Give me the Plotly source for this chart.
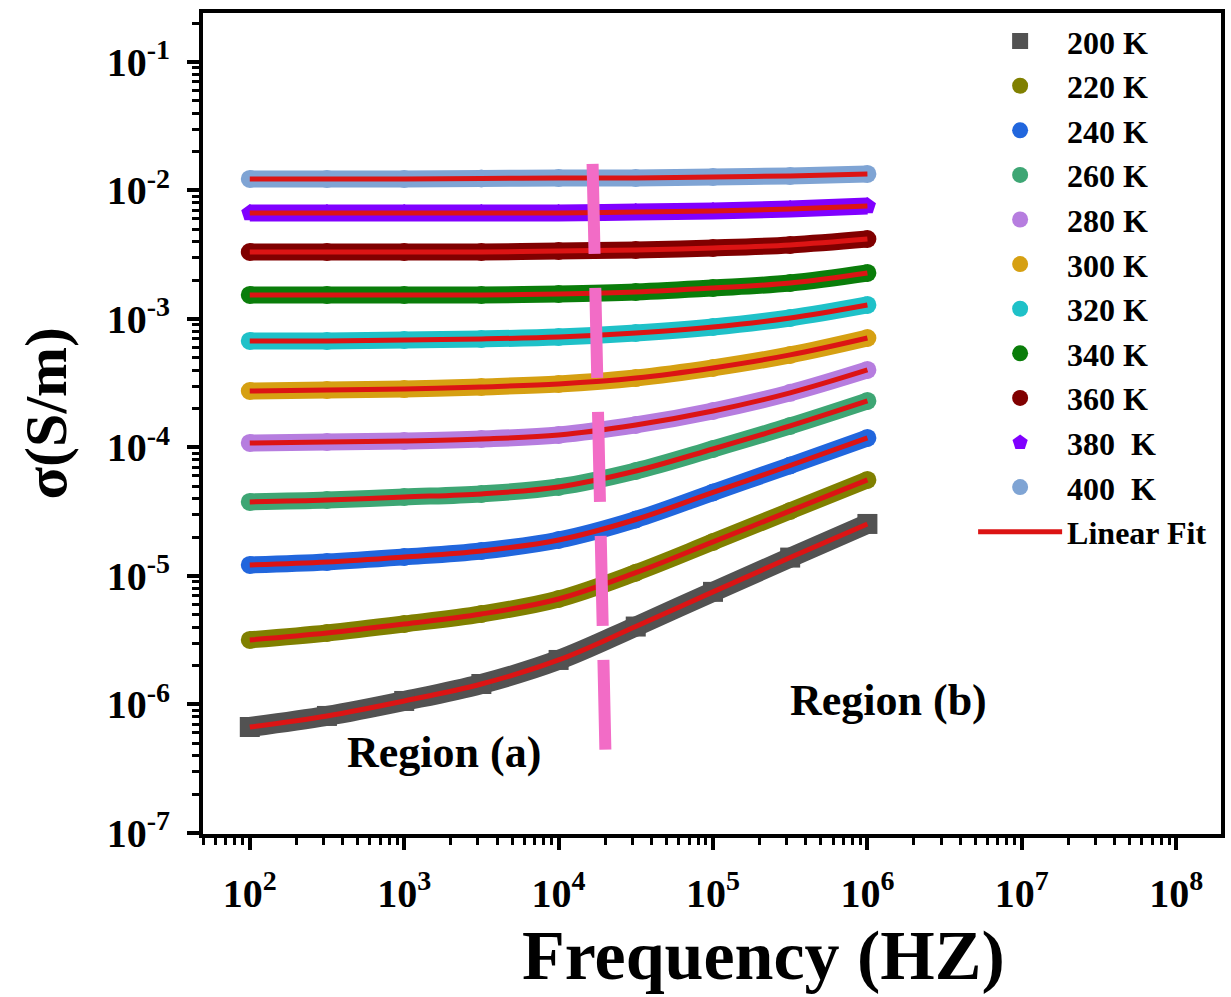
import plotly.graph_objects as go

# ---------------- data ----------------
freq = [1e2, 3.16e2, 1e3, 3.16e3, 1e4, 3.16e4, 1e5, 3.16e5, 1e6]

temps = ["200 K", "220 K", "240 K", "260 K", "280 K", "300 K",
         "320 K", "340 K", "360 K", "380  K", "400  K"]

sigma_200 = [6.68e-7, 8.14e-7, 1.065e-6, 1.443e-6, 2.22e-6, 4.04e-6, 7.52e-6, 1.39e-5, 2.54e-5]
sigma_220 = [3.18e-6, 3.60e-6, 4.23e-6, 5.06e-6, 6.62e-6, 1.06e-5, 1.84e-5, 3.21e-5, 5.59e-5]
sigma_240 = [1.218e-5, 1.285e-5, 1.406e-5, 1.565e-5, 1.906e-5, 2.75e-5, 4.47e-5, 7.24e-5, 1.186e-4]
sigma_260 = [3.77e-5, 3.90e-5, 4.12e-5, 4.35e-5, 4.93e-5, 6.56e-5, 9.73e-5, 1.47e-4, 2.30e-4]
sigma_280 = [1.084e-4, 1.104e-4, 1.124e-4, 1.164e-4, 1.251e-4, 1.497e-4, 1.923e-4, 2.66e-4, 4.01e-4]
sigma_300 = [2.75e-4, 2.80e-4, 2.85e-4, 2.96e-4, 3.12e-4, 3.47e-4, 4.16e-4, 5.25e-4, 7.11e-4]
sigma_320 = [6.74e-4, 6.74e-4, 6.86e-4, 6.99e-4, 7.24e-4, 7.78e-4, 8.66e-4, 1.018e-3, 1.285e-3]
sigma_340 = [1.537e-3, 1.537e-3, 1.537e-3, 1.537e-3, 1.565e-3, 1.622e-3, 1.743e-3, 1.906e-3, 2.28e-3]
sigma_360 = [3.32e-3, 3.32e-3, 3.32e-3, 3.32e-3, 3.38e-3, 3.44e-3, 3.57e-3, 3.77e-3, 4.19e-3]
sigma_380 = [6.68e-3, 6.68e-3, 6.68e-3, 6.68e-3, 6.68e-3, 6.80e-3, 6.93e-3, 7.18e-3, 7.58e-3]
sigma_400 = [1.229e-2, 1.229e-2, 1.229e-2, 1.24e-2, 1.251e-2, 1.251e-2, 1.273e-2, 1.297e-2, 1.344e-2]

series = [sigma_200, sigma_220, sigma_240, sigma_260, sigma_280, sigma_300,
          sigma_320, sigma_340, sigma_360, sigma_380, sigma_400]

# boundary between region (a) and (b)
boundary_f = [1.66e4, 2.01e4]
boundary_sigma = [1.61e-2, 4.35e-7]

x_tickvals = [1e2, 1e3, 1e4, 1e5, 1e6, 1e7, 1e8]
x_ticktext = ["10<sup>2</sup>", "10<sup>3</sup>", "10<sup>4</sup>", "10<sup>5</sup>",
              "10<sup>6</sup>", "10<sup>7</sup>", "10<sup>8</sup>"]
y_tickvals = [1e-7, 1e-6, 1e-5, 1e-4, 1e-3, 1e-2, 1e-1]
y_ticktext = ["10<sup>-7</sup>", "10<sup>-6</sup>", "10<sup>-5</sup>", "10<sup>-4</sup>",
              "10<sup>-3</sup>", "10<sup>-2</sup>", "10<sup>-1</sup>"]

# ---------------- styles ----------------
colors = ["#525252", "#808000", "#2166dd", "#3ea674", "#b67ddf", "#d6a012",
          "#1fc1c8", "#0a7d0a", "#800000", "#8000ff", "#7fa4d4"]
symbols = ["square", "circle", "circle", "circle", "circle", "circle",
           "circle", "circle", "circle", "pentagon", "circle"]
FIT_COLOR = "#dc1414"
FONT = "Liberation Serif"

fig = go.Figure()

# thick bands formed by the dense data markers
for s, c, sym in zip(series, colors, symbols):
    w = 20 if sym == "square" else 17
    fig.add_trace(go.Scatter(x=freq, y=s, mode="lines",
                             line=dict(color=c, width=w, shape="spline"),
                             showlegend=False, hoverinfo="skip"))

# marker traces (legend entries)
for s, c, sym, name in zip(series, colors, symbols, temps):
    sz = 20 if sym == "square" else 18
    fig.add_trace(go.Scatter(x=freq, y=s, mode="markers", name=name,
                             marker=dict(color=c, size=sz, symbol=sym,
                                         line=dict(width=0))))

# linear fits
for i, s in enumerate(series):
    fig.add_trace(go.Scatter(x=freq, y=s, mode="lines", name="Linear Fit",
                             line=dict(color=FIT_COLOR, width=5, shape="spline"),
                             showlegend=(i == 0)))

# boundary dashed line
fig.add_trace(go.Scatter(x=boundary_f, y=boundary_sigma, mode="lines",
                         line=dict(color="#f26cc6", width=12, dash="90px,34px"),
                         showlegend=False, hoverinfo="skip"))

axis_common = dict(
    type="log", showgrid=False, zeroline=False,
    showline=True, linecolor="black", linewidth=4, mirror=True,
    ticks="outside", ticklen=12, tickwidth=4, tickcolor="black",
    tickfont=dict(family=FONT, size=40, color="black", weight="bold"),
    minor=dict(ticks="outside", ticklen=7, tickwidth=3, tickcolor="black", dtick="D1"),
)

fig.update_layout(
    width=1231, height=997,
    margin=dict(l=203, r=6, t=13, b=163),
    plot_bgcolor="white", paper_bgcolor="white",
    font=dict(family=FONT, color="black"),
    xaxis=dict(range=[1.697, 8.29], tickmode="array", tickvals=x_tickvals,
               ticktext=x_ticktext, ticklabelstandoff=9, **axis_common),
    yaxis=dict(range=[-7.008, -0.619], tickmode="array", tickvals=y_tickvals,
               ticktext=y_ticktext, ticklabelstandoff=9, **axis_common),
    legend=dict(x=0.7565, y=0.999, xanchor="left", yanchor="top",
                bgcolor="rgba(0,0,0,0)", borderwidth=0, itemwidth=84,
                font=dict(family=FONT, size=32, color="black", weight="bold"),
                itemsizing="trace"),
    annotations=[
        dict(text="Frequency (HZ)", xref="paper", yref="paper", x=0.5509, y=-0.1474,
             xanchor="center", yanchor="middle", showarrow=False,
             font=dict(family=FONT, size=70, color="black", weight="bold")),
        dict(text="σ(S/m)", xref="paper", yref="paper", x=-0.1546, y=0.5128,
             xanchor="center", yanchor="middle", showarrow=False, textangle=-90,
             font=dict(family=FONT, size=60, color="black", weight="bold")),
        dict(text="Region (a)", xref="paper", yref="paper", x=0.2368, y=0.0987,
             xanchor="center", yanchor="middle", showarrow=False,
             font=dict(family=FONT, size=44, color="black", weight="bold")),
        dict(text="Region (b)", xref="paper", yref="paper", x=0.6732, y=0.1632,
             xanchor="center", yanchor="middle", showarrow=False,
             font=dict(family=FONT, size=44, color="black", weight="bold")),
    ],
)

fig.write_html("out.html")
